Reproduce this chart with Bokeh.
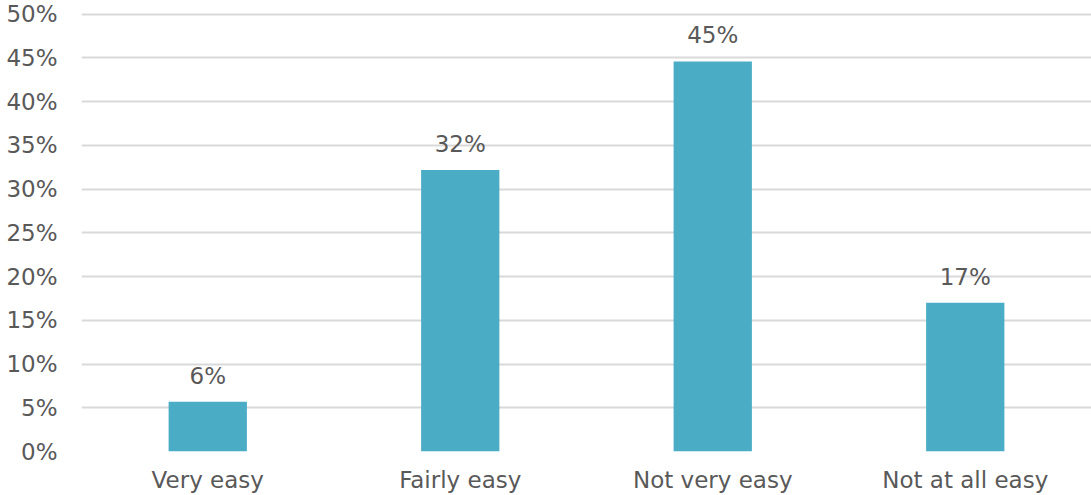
from bokeh.plotting import figure
from bokeh.models import ColumnDataSource, FixedTicker, CustomJSTickFormatter, Range1d, LabelSet
from bokeh.core.properties import value
from bokeh.embed import file_html
from bokeh.resources import INLINE

categories = ["Very easy", "Fairly easy", "Not very easy", "Not at all easy"]
values = [5.7, 32.2, 44.6, 17.0]
labels = ["6%", "32%", "45%", "17%"]
y_ticks = [0, 5, 10, 15, 20, 25, 30, 35, 40, 45, 50]

FONT = "DejaVu Sans"
GREY = "#595959"

src = ColumnDataSource(dict(cat=categories, val=values, lab=labels))

p = figure(x_range=categories, y_range=Range1d(0, 50.2), width=1091, height=495,
           output_backend="svg", toolbar_location=None)
p.min_border_left = 81
p.min_border_right = 0
p.min_border_top = 12
p.min_border_bottom = 43
p.outline_line_color = None

p.vbar(x="cat", top="val", width=0.31, source=src, fill_color="#4BACC6", line_color=None)

lbl = LabelSet(x="cat", y="val", text="lab", source=src, text_align="center",
               text_baseline="alphabetic", y_offset=18, text_font=value(FONT),
               text_font_size="23px", text_color=GREY)
p.add_layout(lbl)

p.yaxis.ticker = FixedTicker(ticks=y_ticks)
p.yaxis.formatter = CustomJSTickFormatter(code="return tick + '%';")
p.yaxis.axis_line_color = None
p.yaxis.major_tick_line_color = None
p.yaxis.minor_tick_line_color = None
p.yaxis.major_tick_out = 0
p.yaxis.major_tick_in = 0
p.yaxis.minor_tick_out = 0
p.yaxis.major_label_standoff = 24
p.yaxis.major_label_text_font = FONT
p.yaxis.major_label_text_font_size = "23px"
p.yaxis.major_label_text_color = GREY

p.xaxis.axis_line_color = None
p.xaxis.major_tick_line_color = None
p.xaxis.major_tick_out = 0
p.xaxis.major_tick_in = 0
p.xaxis.major_label_standoff = 15
p.xaxis.major_label_text_font = FONT
p.xaxis.major_label_text_font_size = "23px"
p.xaxis.major_label_text_color = GREY

p.xgrid.grid_line_color = None
p.ygrid.grid_line_color = "#D9D9D9"
p.ygrid.grid_line_width = 2

open("out.html", "w").write(file_html(p, INLINE))
